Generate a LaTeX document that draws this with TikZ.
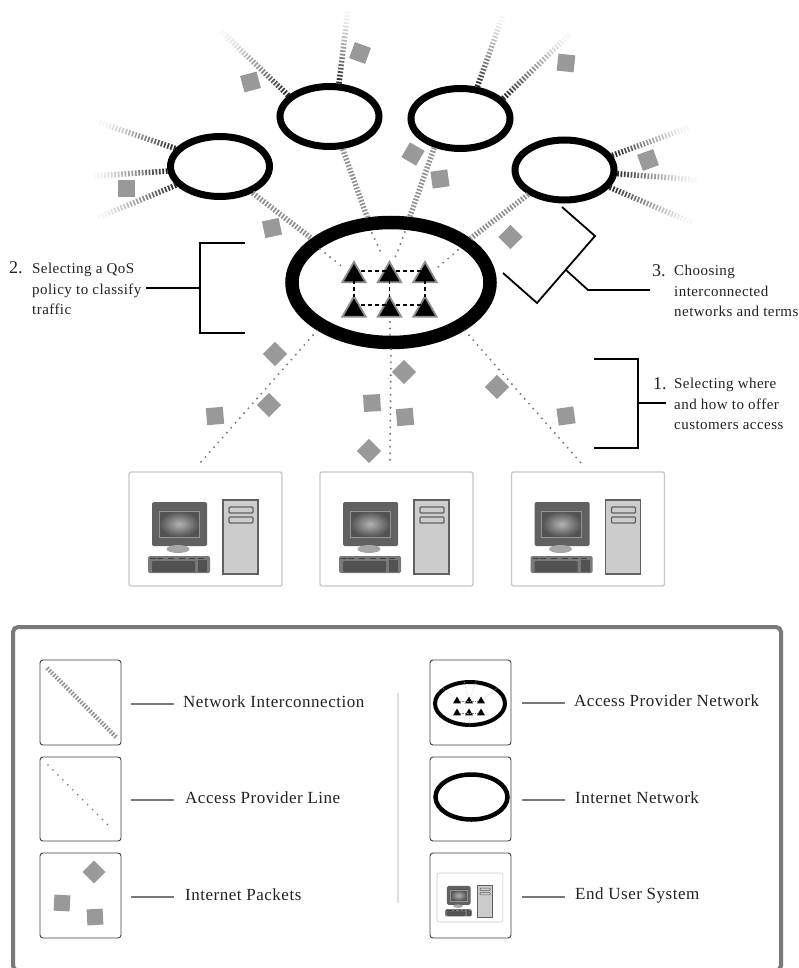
\documentclass[tikz,border=0pt]{standalone}
\usepackage{fontspec}
\setmainfont{Liberation Serif}
\usetikzlibrary{shapes.geometric,calc}
\definecolor{pk}{HTML}{999999}
\definecolor{tx}{HTML}{222222}
\tikzset{
  net/.style={draw=black,ellipse,fill=white,inner sep=0pt,line width=7pt,minimum width=99pt,minimum height=60pt},
  corenet/.style={draw=black,ellipse,fill=white,inner sep=0pt,line width=13.5pt,minimum width=198pt,minimum height=120pt},
  tri/.style={draw=gray!90,fill=black,regular polygon,regular polygon sides=3,inner sep=0pt,line width=1.8pt,minimum size=27pt},
  packet/.style={fill=pk,inner sep=0pt,minimum size=#1},
  packet/.default=17pt,
  stripe/.style={draw=gray!85,line width=5.5pt,dash pattern=on 1.7pt off 1.7pt},
  dotline/.style={draw=gray!90!black,line width=2.1pt,line cap=round,dash pattern=on 0pt off 6.5pt},
  linkdash/.style={draw=black,line width=1.6pt,dash pattern=on 4pt off 3pt},
  brace/.style={draw=black,line width=1.8pt},
  leader/.style={draw=gray!95!black,line width=1.1pt},
  iconbox/.style={draw=black!75,line width=.9pt,rounded corners=3pt,fill=white},
  lbl/.style={anchor=west,inner sep=0pt,text=tx,align=left,font=\fontsize{15}{20.4}\selectfont\addfontfeatures{LetterSpace=3}},
  num/.style={anchor=west,inner sep=0pt,text=tx,font=\fontsize{18}{18}\selectfont},
  leg/.style={anchor=west,inner sep=0pt,text=tx,font=\fontsize{17}{18}\selectfont\addfontfeatures{LetterSpace=3}},
  computer/.pic={\compdraw{1}},
  smallcomputer/.pic={\compdraw{.45}}
}
% box-relative computer, box top-left at the pic origin
\newcommand\compdraw[1]{%
  \draw[rounded corners=2pt,draw=black!22,line width=#1*1.3pt,fill=white] (0,0) rectangle (153,114);
  \fill[rounded corners=1.5pt,fill=black!62] (23,30) rectangle (78,74);
  \shade[inner color=black!30,outer color=black!68] (30,39) rectangle (70,65);
  \draw[draw=black!42,line width=#1*.8pt] (30,39) rectangle (70,65);
  \fill[fill=black!35] (49,77) ellipse (11.5 and 4);
  \fill[rounded corners=1.5pt,fill=black!52] (19,84) rectangle (81,101);
  \fill[rounded corners=1pt,fill=black!68] (23,89) rectangle (66,100);
  \fill[fill=black!68] (69,88) rectangle (78,100);
  \foreach \kx in {21,28,39,50,60,69}{\fill[fill=black!75] (\kx,85.5) rectangle ++(6,1.8);}
  \draw[fill=black!20,draw=black!62,line width=#1*1.4pt] (94,28) rectangle (129,102);
  \draw[fill=black!20,draw=black!62,line width=#1*1.2pt,rounded corners=1pt] (100,35) rectangle (124,41);
  \draw[fill=black!20,draw=black!62,line width=#1*1.2pt,rounded corners=1pt] (100,45) rectangle (124,51);
}
% fading striped line: from, to, number of stripes
\newcommand\fadeline[3]{%
  \foreach \i in {1,...,#3}{
    \pgfmathsetmacro\ta{(\i-1)/#3}
    \pgfmathsetmacro\tb{(\i-.5)/#3}
    \pgfmathsetmacro\pc{max(4,85*(1-((\i-1)/#3))^1.25)}
    \draw[draw=black!\pc,line width=5.5pt] ($(#1)!\ta!(#2)$) -- ($(#1)!\tb!(#2)$);
  }
}
\begin{document}
\begin{tikzpicture}[x=1pt,y=-1pt]
\useasboundingbox (0,0) rectangle (798,968);
\clip (0,0) rectangle (798,968);
\fill[white] (0,0) rectangle (798,968);

% networks
\node[corenet] (E) at (391,282.5) {};
\node[net] (A) at (220,166.5) {};
\node[net] (B) at (329.5,116.5) {};
\node[net] (C) at (460.5,118.5) {};
\node[net] (D) at (564.5,170) {};

% free ends of the outer links
\coordinate (a1) at (98,122);
\coordinate (a2) at (92,176);
\coordinate (a3) at (97,218);
\coordinate (b1) at (220,30);
\coordinate (b2) at (348,10);
\coordinate (c1) at (503,15);
\coordinate (c2) at (571,33);
\coordinate (d1) at (690,127);
\coordinate (d2) at (698,180);
\coordinate (d3) at (693,223);
\fadeline{A.158}{a1}{24}
\fadeline{A.185}{a2}{22}
\fadeline{A.203}{a3}{25}
\fadeline{B.153}{b1}{28}
\fadeline{B.74}{b2}{21}
\fadeline{C.62}{c1}{22}
\fadeline{C.25}{c2}{27}
\fadeline{D.17.5}{d1}{25}
\fadeline{D.-4}{d2}{24}
\fadeline{D.-21}{d3}{27}

% interconnections to the core network
\draw[stripe] (A.-39) -- (E.151);
\draw[stripe] (B.-68) -- (E.110);
\draw[stripe] (C.228) -- (E.74);
\draw[stripe] (D.214) -- (E.29);

% routers
\coordinate (i1) at (320,249);
\coordinate (i2) at (372,233);
\coordinate (i3) at (405,232);
\coordinate (i4) at (458,250);
\coordinate (i5) at (390,335);
\coordinate (h1) at (354,271);
\coordinate (h2) at (425,271);
\coordinate (h3) at (354,305);
\coordinate (h4) at (425,305);
\coordinate (v1) at (354,297);
\coordinate (v2) at (389.5,297);
\coordinate (v3) at (425,297);
\coordinate (w1) at (354,280);
\coordinate (w2) at (389.5,280);
\coordinate (w3) at (425,280);
\draw[dotline] (i1) -- (345,269);
\draw[dotline] (i2) -- (382,255);
\draw[dotline] (i3) -- (395,258);
\draw[dotline] (i4) -- (437,268);
\draw[dotline] (i5) -- (390,319);
\node[tri] (T1) at (354,275.5) {};
\node[tri] (T2) at (389.5,275.5) {};
\node[tri] (T3) at (425,275.5) {};
\node[tri] (T4) at (354,310) {};
\node[tri] (T5) at (389.5,310) {};
\node[tri] (T6) at (425,310) {};
\draw[linkdash] (h1) -- (h2);
\draw[linkdash] (h3) -- (h4);
\draw[linkdash] (w1) -- (v1);
\draw[linkdash] (w2) -- (v2);
\draw[linkdash] (w3) -- (v3);

% end user systems
\pic (P1) at (129,472) {computer};
\pic (P2) at (320,472) {computer};
\pic (P3) at (511.5,472) {computer};
\coordinate (e1) at (200,463);
\coordinate (e2) at (390,462);
\coordinate (e3) at (581,463);
\draw[dotline] (E.213) -- (e1);
\draw[dotline] (E.270) -- (e2);
\draw[dotline] (E.327) -- (e3);

% packets
\node[packet,rotate=-20] (q1) at (360,53) {};
\node[packet,rotate=15] (q2) at (250.5,82) {};
\node[packet] (q3) at (126,189) {};
\node[packet,rotate=12] (q4) at (272,228) {};
\node[packet,rotate=-30] (q5) at (413,154) {};
\node[packet,rotate=8] (q6) at (440,179) {};
\node[packet,rotate=-6] (q7) at (566,63) {};
\node[packet,rotate=20] (q8) at (648,160) {};
\node[packet,rotate=45] (q9) at (510.5,237) {};
\node[packet,rotate=45] (q10) at (275,354) {};
\node[packet,rotate=5] (q11) at (215,416) {};
\node[packet,rotate=45] (q12) at (269,405) {};
\node[packet,rotate=45] (q13) at (404,372) {};
\node[packet,rotate=3] (q14) at (372,403) {};
\node[packet,rotate=5] (q15) at (405,417) {};
\node[packet,rotate=45] (q16) at (369,451) {};
\node[packet,rotate=45] (q17) at (497,387) {};
\node[packet,rotate=8] (q18) at (566,416) {};

% brackets and labels
\node[num] (n2) at (9,268) {2.};
\node[lbl] (l2) at (32,289) {Selecting a QoS\\policy to classify\\traffic};
\node[num] (n3) at (652,271) {3.};
\node[lbl] (l3) at (674,291) {Choosing\\interconnected\\networks and terms};
\node[num] (n1) at (653,384) {1.};
\node[lbl] (l1) at (674,404) {Selecting where\\and how to offer\\customers access};
\coordinate (b2a) at (245,243);
\coordinate (b2b) at (200,243);
\coordinate (b2c) at (200,333);
\coordinate (b2d) at (245,333);
\coordinate (b2m) at (200,288);
\coordinate (b2s) at (146,288);
\draw[brace] (b2a) -- (b2b) -- (b2c) -- (b2d);
\draw[brace] (b2s) -- (b2m);
\coordinate (b1a) at (594,359);
\coordinate (b1b) at (638,359);
\coordinate (b1c) at (638,448);
\coordinate (b1d) at (594,448);
\coordinate (b1m) at (638,403);
\coordinate (b1s) at (666,403);
\draw[brace] (b1a) -- (b1b) -- (b1c) -- (b1d);
\draw[brace] (b1m) -- (b1s);
\coordinate (b3a) at (562,207);
\coordinate (b3b) at (595,236);
\coordinate (b3c) at (537,303);
\coordinate (b3d) at (503,273);
\coordinate (b3m) at (566,270);
\coordinate (b3k) at (588,290);
\coordinate (b3s) at (650,290);
\draw[brace] (b3a) -- (b3b) -- (b3c) -- (b3d);
\draw[brace] (b3m) -- (b3k) -- (b3s);

% legend frame
\draw[draw=gray!95!black,line width=4pt,rounded corners=5pt] (13,627) rectangle (781,970.5);
\coordinate (dv1) at (398,693);
\coordinate (dv2) at (398,903);
\draw[draw=black!12,line width=1.5pt] (dv1) -- (dv2);

% legend icons, left column
\node[iconbox,minimum width=81pt,minimum height=85pt,inner sep=0pt] (L1) at (80.5,702.5) {};
\node[iconbox,minimum width=81pt,minimum height=84pt,inner sep=0pt] (L2) at (80.5,799) {};
\node[iconbox,minimum width=81pt,minimum height=85pt,inner sep=0pt] (L3) at (80.5,895.5) {};
% legend icons, right column
\node[iconbox,minimum width=81pt,minimum height=85pt,inner sep=0pt] (R1) at (470.5,702.5) {};
\node[iconbox,minimum width=81pt,minimum height=84pt,inner sep=0pt] (R2) at (470.5,799) {};
\node[iconbox,minimum width=81pt,minimum height=85pt,inner sep=0pt] (R3) at (470.5,895.5) {};

\coordinate (ls1) at (47,668);
\coordinate (ls2) at (116,737);
\draw[draw=gray!85,line width=4.5pt,dash pattern=on 1.6pt off 1.6pt] (ls1) -- (ls2);
\coordinate (ld1) at (48,765);
\coordinate (ld2) at (112,829);
\draw[draw=gray!90!black,line width=1.9pt,line cap=round,dash pattern=on 0pt off 7pt] (ld1) -- (ld2);
\node[packet=16pt,rotate=45] (lp1) at (94,872) {};
\node[packet=16pt,rotate=-3] (lp2) at (62,903) {};
\node[packet=16pt,rotate=3] (lp3) at (95,917) {};

\node[draw=black,ellipse,inner sep=0pt,line width=4pt,minimum width=70pt,minimum height=43pt] (ri1) at (470,703.5) {};
\foreach \tx/\ty/\tn in {457/701/a,469/701/b,481/701/c,457/713/d,469/713/e,481/713/f}{
  \node[fill=black,regular polygon,regular polygon sides=3,inner sep=0pt,minimum size=9pt] (m\tn) at (\tx,\ty) {};
}
\draw[draw=black!50,line width=.4pt,dash pattern=on 1.5pt off 1pt] (ma) -- (mc);
\draw[draw=black!50,line width=.4pt,dash pattern=on 1.5pt off 1pt] (md) -- (mf);
\draw[draw=black!25,line width=.5pt,dash pattern=on 1pt off 1.5pt] (ma) -- (ri1.150);
\draw[draw=black!25,line width=.5pt,dash pattern=on 1pt off 1.5pt] (mb) -- (ri1.105);
\draw[draw=black!25,line width=.5pt,dash pattern=on 1pt off 1.5pt] (mb) -- (ri1.75);
\draw[draw=black!25,line width=.5pt,dash pattern=on 1pt off 1.5pt] (mc) -- (ri1.30);
\draw[draw=black!25,line width=.5pt,dash pattern=on 1pt off 1.5pt] (me) -- (ri1.270);
\node[draw=black,ellipse,inner sep=0pt,line width=4.5pt,minimum width=72pt,minimum height=45pt] (ri2) at (471.5,797) {};
\pic[scale=.43] (ri3) at (437,873) {smallcomputer};

% leaders and legend text
\node[leg] (t1) at (183,702) {Network Interconnection};
\node[leg] (t2) at (185,798) {Access Provider Line};
\node[leg] (t3) at (185,895) {Internet Packets};
\node[leg] (t4) at (574,701) {Access Provider Network};
\node[leg] (t5) at (575,798) {Internet Network};
\node[leg] (t6) at (575,895) {End User System};
\coordinate (z1) at (131,704); \coordinate (z2) at (174,704);
\coordinate (z3) at (131,800); \coordinate (z4) at (174,800);
\coordinate (z5) at (131,897); \coordinate (z6) at (174,897);
\coordinate (z7) at (522,703); \coordinate (z8) at (565,703);
\coordinate (z9) at (522,800); \coordinate (z10) at (565,800);
\coordinate (z11) at (522,897); \coordinate (z12) at (565,897);
\draw[leader] (z1) -- (z2);
\draw[leader] (z3) -- (z4);
\draw[leader] (z5) -- (z6);
\draw[leader] (z7) -- (z8);
\draw[leader] (z9) -- (z10);
\draw[leader] (z11) -- (z12);
\end{tikzpicture}
\end{document}
